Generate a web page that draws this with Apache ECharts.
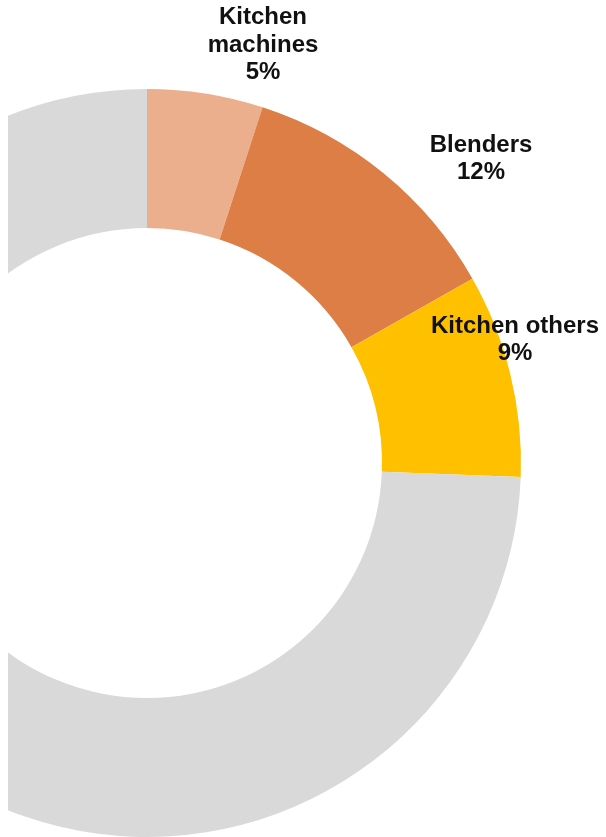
<!DOCTYPE html>
<html>
<head>
<meta charset="utf-8">
<script src="https://cdn.jsdelivr.net/npm/echarts@6/dist/echarts.min.js"></script>
<style>
html,body{margin:0;padding:0;background:#fff;width:606px;height:837px;overflow:hidden;}
#chart{position:absolute;left:8px;top:0;width:598px;height:837px;}
</style>
</head>
<body>
<div id="chart"></div>
<script>
// Data
const categories = ['Kitchen machines', 'Blenders', 'Kitchen others', 'Other'];
const labelNames = ['Kitchen\nmachines', 'Blenders', 'Kitchen others', ''];
const shares = [5.0, 11.8, 8.8, 74.4];

// Styles / layout (kept separate from data)
const colors = ['#EBAF8D', '#DC7E46', '#FFC000', '#D9D9D9'];
const labelPos = [[255, 45], [473, 159], [507, 340], null];

const chart = echarts.init(document.getElementById('chart'), null, {renderer: 'canvas'});
const data = categories.map((c, i) => ({
  name: c,
  value: shares[i],
  itemStyle: {color: colors[i]},
  label: {show: i < 3}
}));

chart.setOption({
  animation: false,
  backgroundColor: '#ffffff',
  series: [{
    type: 'pie',
    center: [139, 463],
    radius: [235, 374],
    startAngle: 90,
    clockwise: true,
    avoidLabelOverlap: false,
    silent: true,
    data: data,
    label: {
      show: true,
      position: 'outside',
      formatter: p => labelNames[p.dataIndex] + '\n' + Math.round(p.percent) + '%',
      fontFamily: '"Liberation Sans", Arial, sans-serif',
      fontWeight: 'bold',
      fontSize: 24,
      lineHeight: 27.5,
      color: '#111111',
      align: 'center'
    },
    labelLine: {show: false},
    labelLayout: function (params) {
      const p = labelPos[params.dataIndex];
      if (!p) return {};
      return {x: p[0], y: p[1], align: 'center', verticalAlign: 'middle'};
    }
  }]
});
</script>
</body>
</html>
